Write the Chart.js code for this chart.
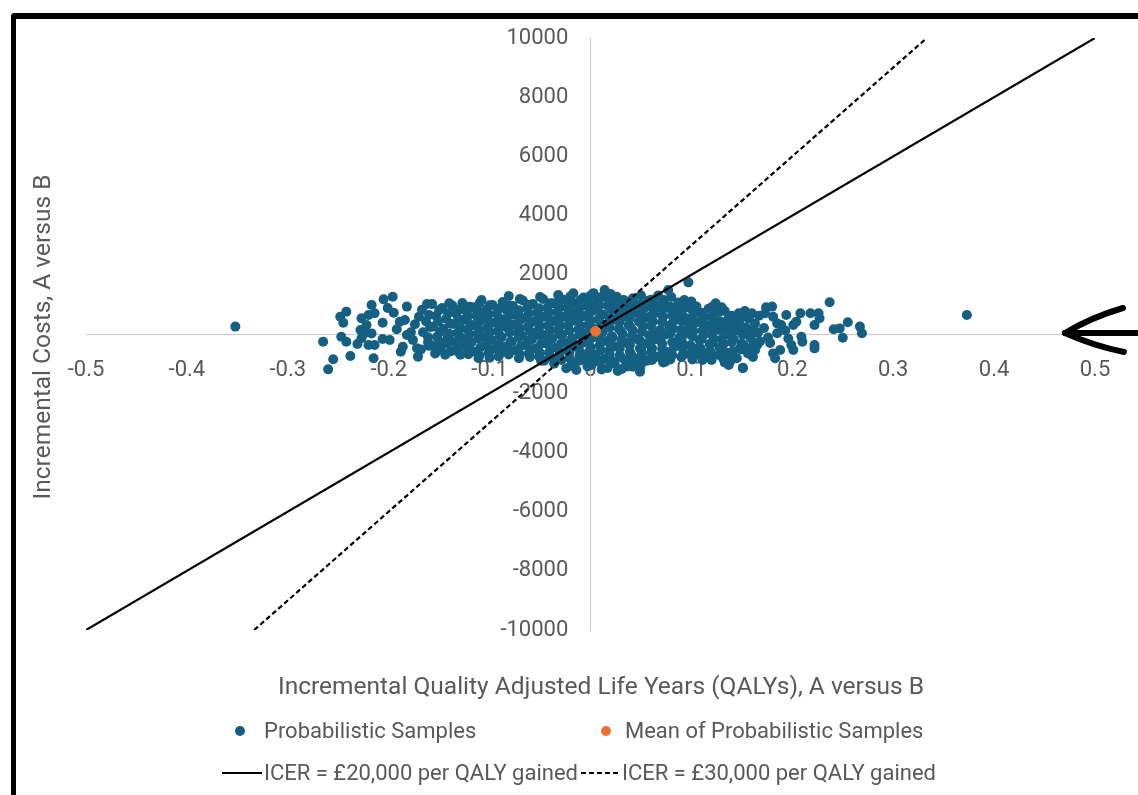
<!DOCTYPE html>
<html>
<head>
<meta charset="utf-8">
<script src="https://cdn.jsdelivr.net/npm/chart.js@4"></script>
<style>
  html, body { margin: 0; padding: 0; background: #fff; width: 1138px; height: 795px; overflow: hidden; }
  #wrap { position: relative; width: 1138px; height: 795px; }
  #frame { position: absolute; left: 11px; top: 13px; width: 1200px; height: 900px;
           border-top: 6px solid #000; border-left: 5px solid #000; border-top-left-radius: 4px; }
  canvas { position: absolute; left: 0; top: 0; }
  .lt { position: absolute; font: 22px Roboto, sans-serif; color: #595959; line-height: 26px; white-space: nowrap; }
  .dot { position: absolute; width: 10px; height: 10px; border-radius: 50%; }
  .ln { position: absolute; width: 40px; height: 2px; }
  #arrow { position: absolute; left: 1040px; top: 290px; }
</style>
</head>
<body>
<div id="wrap">
  <canvas id="ce_plane" width="1138" height="795"></canvas>
  <div id="frame"></div>

  <div class="dot" style="left:235px;top:726px;background:#156082"></div>
  <div class="lt" id="legSamples" style="left:264px;top:718px"></div>
  <div class="dot" style="left:601px;top:726px;background:#E97132"></div>
  <div class="lt" id="legMean" style="left:625px;top:718px"></div>
  <div class="ln" style="left:222px;top:772px;background:#000"></div>
  <div class="lt" id="legIcer20" style="left:264px;top:760px"></div>
  <div class="ln" style="left:581px;top:772px;background:repeating-linear-gradient(90deg,#000 0 5px,transparent 5px 8px)"></div>
  <div class="lt" id="legIcer30" style="left:622px;top:760px"></div>

  <svg id="arrow" width="98" height="80">
    <g stroke="#000" stroke-width="6" fill="none" stroke-linecap="round">
      <path d="M25 43 L98 43"/>
      <path d="M25 43 Q52 27 83 18"/>
      <path d="M25 43 Q54 56 84 62"/>
    </g>
  </svg>
</div>

<script>
// series names + axis titles
const seriesNames = ['Probabilistic Samples', 'Mean of Probabilistic Samples',
  'ICER = £20,000 per QALY gained', 'ICER = £30,000 per QALY gained'];
const xTitle = 'Incremental Quality Adjusted Life Years (QALYs), A versus B';
const yTitle = 'Incremental Costs, A versus B';

// axis ranges / tick steps
const qalyRange = [-0.5, 0.5];
const costRange = [-10000, 10000];
const qalyStep = 0.1;
const costStep = 2000;

// probabilistic samples [incremental QALY, incremental cost]
const outlierSamples = [[-0.352, 250], [0.373, 640]];

const leftSamples = [
  [-0.265,-260],[-0.255,-855],[-0.260,-1195],[-0.248,585],[-0.242,755],[-0.245,380],[-0.247,-90],
  [-0.242,-260],[-0.238,-745],[-0.231,-340],[-0.227,530],[-0.220,640],[-0.217,980],[-0.214,700],
  [-0.205,1170],[-0.196,1260],[-0.206,380],[-0.222,305],[-0.228,135],[-0.223,45],[-0.217,20],
  [-0.227,-145],[-0.220,-370],[-0.214,-370],[-0.215,-820],[-0.206,-170],[-0.199,-200],[-0.182,925],
  [-0.189,415],[-0.192,160],[-0.184,475],[-0.182,-35],[-0.186,-430],[-0.176,-200],[-0.170,585],
  [-0.171,-765],[-0.195,720],[-0.178,60],[-0.174,330],[-0.188,-600],[-0.201,880],[-0.172,-480],
  [-0.162,1015]
];

const coreSamples = [
  [-0.167,820],[-0.163,420],[-0.166,60],[-0.161,-280],[-0.168,-520],
  [-0.157,1010],[-0.153,610],[-0.156,250],[-0.152,-90],[-0.158,-380],[-0.154,-660],
  [-0.147,880],[-0.143,520],[-0.146,180],[-0.142,-160],[-0.148,-450],[-0.144,-700],
  [-0.137,960],[-0.133,680],[-0.136,340],[-0.132,30],[-0.138,-250],[-0.134,-560],
  [-0.127,1050],[-0.123,760],[-0.126,470],[-0.122,150],[-0.128,-130],[-0.124,-420],[-0.121,-680],
  [-0.117,900],[-0.113,620],[-0.116,300],[-0.112,10],[-0.118,-290],[-0.114,-600],[-0.111,-820],
  [-0.108,1150],[-0.103,820],[-0.106,520],[-0.102,220],[-0.107,-80],[-0.104,-380],[-0.101,-650],
  [-0.097,980],[-0.093,690],[-0.096,380],[-0.092,90],[-0.098,-200],[-0.094,-500],[-0.091,-760],
  [-0.087,1080],[-0.083,800],[-0.086,500],[-0.082,200],[-0.088,-110],[-0.084,-420],[-0.081,-690],
  [-0.081,1285],[-0.077,950],[-0.073,640],[-0.076,330],[-0.072,40],[-0.078,-260],[-0.074,-560],[-0.071,-820],
  [-0.067,1130],[-0.063,860],[-0.066,540],[-0.062,240],[-0.068,-60],[-0.064,-360],[-0.061,-640],
  [-0.057,1010],[-0.053,720],[-0.056,420],[-0.052,120],[-0.058,-180],[-0.054,-480],[-0.052,-540],[-0.051,-760],
  [-0.047,1180],[-0.043,880],[-0.046,580],[-0.042,280],[-0.048,-20],[-0.044,-320],[-0.041,-620],[-0.046,-900],
  [-0.032,1320],[-0.037,1040],[-0.033,740],[-0.036,440],[-0.032,140],[-0.038,-160],[-0.034,-460],[-0.031,-740],[-0.036,-1000],
  [-0.017,1375],[-0.027,1160],[-0.023,880],[-0.026,580],[-0.022,280],[-0.028,-20],[-0.024,-320],[-0.021,-620],[-0.024,-1160],[-0.014,-1215],
  [-0.017,1050],[-0.013,760],[-0.016,460],[-0.012,160],[-0.018,-140],[-0.014,-440],[-0.011,-740],[-0.016,-960],
  [-0.007,1230],[-0.003,930],[-0.006,620],[-0.002,320],[-0.008,20],[-0.004,-280],[-0.001,-580],[-0.006,-860],[-0.003,-1100],
  [0.003,1380],[0.007,1100],[0.004,800],[0.008,500],[0.002,200],[0.006,-100],[0.009,-400],[0.004,-700],[0.006,-820],[0.001,-1050],
  [0.013,1260],[0.014,1487],[0.017,960],[0.013,660],[0.018,360],[0.012,60],[0.016,-240],[0.019,-540],[0.014,-840],[0.017,-1150],
  [0.026,1260],[0.023,1080],[0.027,780],[0.024,480],[0.028,180],[0.022,-120],[0.026,-420],[0.029,-720],[0.024,-1000],[0.027,-1250],
  [0.033,1150],[0.037,900],[0.034,600],[0.038,300],[0.032,0],[0.036,-300],[0.039,-600],[0.034,-880],[0.037,-1100],
  [0.042,1205],[0.047,1000],[0.044,720],[0.048,420],[0.042,120],[0.046,-180],[0.049,-480],[0.044,-820],[0.042,-1105],[0.049,-1275],[0.049,-1215],
  [0.057,1120],[0.053,860],[0.056,560],[0.052,260],[0.058,-40],[0.054,-340],[0.051,-640],[0.056,-900],
  [0.067,1300],[0.063,1020],[0.066,720],[0.062,420],[0.068,120],[0.064,-180],[0.061,-480],[0.066,-760],
  [0.077,1487],[0.073,1150],[0.076,880],[0.072,580],[0.078,280],[0.074,-20],[0.071,-320],[0.076,-620],[0.072,-960],[0.074,-935],
  [0.087,1060],[0.083,780],[0.086,480],[0.082,180],[0.088,-120],[0.084,-420],[0.081,-720],
  [0.097,1745],[0.093,1150],[0.096,900],[0.092,600],[0.098,300],[0.094,0],[0.091,-300],[0.093,-690],[0.092,-655],
  [0.105,925],[0.103,700],[0.106,400],[0.102,100],[0.108,-200],[0.104,-500],[0.107,-690],[0.105,-540],
  [0.117,850],[0.113,560],[0.116,260],[0.112,-40],[0.118,-340],[0.114,-640],[0.111,-880],
  [0.124,1040],[0.127,740],[0.123,440],[0.126,140],[0.122,-160],[0.128,-460],[0.127,-710],
  [0.133,780],[0.137,560],[0.134,260],[0.138,-40],[0.132,-340],[0.136,-640],[0.133,-960],[0.137,-1050],
  [0.147,700],[0.143,420],[0.146,120],[0.142,-180],[0.148,-480],[0.145,-820],
  [0.153,780],[0.157,520],[0.154,220],[0.158,-80],[0.152,-380],[0.151,-1140],[0.151,-1160],[0.156,-660],
  [0.167,620],[0.163,350],[0.166,40],[0.165,-370],[0.163,-540],[0.168,-250]
];

// second layer of the dense middle of the cloud
const coreSamplesB = [
  [-0.160,640],[-0.159,240],[-0.161,-110],[-0.160,-400],
  [-0.150,800],[-0.151,430],[-0.149,70],[-0.150,-260],[-0.151,-540],
  [-0.140,1040],[-0.141,700],[-0.139,350],[-0.140,10],[-0.141,-310],[-0.139,-590],
  [-0.130,830],[-0.131,510],[-0.129,190],[-0.130,-100],[-0.131,-400],[-0.129,-700],
  [-0.120,920],[-0.121,610],[-0.119,300],[-0.120,-10],[-0.121,-280],[-0.119,-560],
  [-0.110,1040],[-0.111,760],[-0.109,450],[-0.110,150],[-0.111,-150],[-0.109,-450],[-0.110,-720],
  [-0.100,970],[-0.101,670],[-0.099,370],[-0.100,70],[-0.101,-230],[-0.099,-530],[-0.100,-800],
  [-0.090,860],[-0.091,540],[-0.089,230],[-0.090,-60],[-0.091,-360],[-0.089,-640],
  [-0.080,960],[-0.079,650],[-0.081,350],[-0.080,50],[-0.079,-250],[-0.081,-540],
  [-0.070,1180],[-0.071,800],[-0.069,490],[-0.070,190],[-0.071,-110],[-0.069,-410],[-0.070,-700],
  [-0.060,990],[-0.061,700],[-0.059,390],[-0.060,90],[-0.061,-210],[-0.059,-510],[-0.060,-780],
  [-0.050,1250],[-0.051,870],[-0.049,570],[-0.050,270],[-0.051,-30],[-0.049,-330],[-0.050,-640],[-0.049,-900],
  [-0.040,1040],[-0.041,730],[-0.039,430],[-0.040,130],[-0.041,-170],[-0.039,-470],[-0.040,-780],
  [-0.030,1200],[-0.031,890],[-0.029,590],[-0.030,290],[-0.031,-10],[-0.029,-310],[-0.030,-610],[-0.029,-880],
  [-0.020,1270],[-0.021,1010],[-0.019,720],[-0.020,420],[-0.021,120],[-0.019,-180],[-0.020,-480],[-0.021,-800],[-0.019,-1060],
  [-0.010,1150],[-0.011,880],[-0.009,580],[-0.010,280],[-0.011,-20],[-0.009,-320],[-0.010,-620],[-0.011,-900],
  [0.000,1300],[-0.001,1020],[0.001,760],[0.000,460],[-0.001,160],[0.001,-140],[0.000,-440],[-0.001,-740],[0.001,-980],
  [0.010,1240],[0.009,960],[0.011,650],[0.010,350],[0.009,50],[0.011,-250],[0.010,-550],[0.009,-950],[0.011,-1200],
  [0.020,1350],[0.019,1110],[0.021,820],[0.020,520],[0.019,220],[0.021,-80],[0.020,-380],[0.019,-680],[0.021,-900],
  [0.030,1000],[0.031,710],[0.029,410],[0.030,110],[0.031,-190],[0.029,-490],[0.030,-780],[0.031,-1180],
  [0.040,1090],[0.041,820],[0.039,520],[0.040,220],[0.041,-80],[0.039,-380],[0.040,-680],[0.041,-960],
  [0.050,1310],[0.051,980],[0.049,680],[0.050,380],[0.051,80],[0.049,-220],[0.050,-520],[0.051,-780],[0.050,-1040],
  [0.060,1160],[0.061,880],[0.059,580],[0.060,280],[0.061,-20],[0.059,-320],[0.060,-620],[0.061,-880],
  [0.070,1000],[0.069,700],[0.071,400],[0.070,100],[0.069,-200],[0.071,-500],[0.070,-800],
  [0.080,1250],[0.079,920],[0.081,620],[0.080,320],[0.079,20],[0.081,-280],[0.080,-580],[0.079,-860],
  [0.090,980],[0.089,740],[0.091,440],[0.090,140],[0.089,-160],[0.091,-460],[0.090,-780],
  [0.100,1100],[0.101,800],[0.099,520],[0.100,220],[0.101,-80],[0.099,-380],[0.100,-620],[0.101,-860],
  [0.110,720],[0.109,420],[0.111,120],[0.110,-180],[0.109,-480],[0.111,-760],
  [0.120,900],[0.121,600],[0.119,300],[0.120,0],[0.121,-300],[0.119,-600],[0.120,-880],
  [0.130,900],[0.129,420],[0.131,120],[0.130,-180],[0.129,-480],[0.131,-800],
  [0.140,620],[0.141,320],[0.139,20],[0.140,-280],[0.141,-580],[0.139,-900],
  [0.150,560],[0.149,260],[0.151,-30],[0.150,-330],[0.149,-520],
  [0.160,700],[0.161,120],[0.159,-150],[0.160,-450],[0.161,-780]
];

const rightSamples = [
  [0.174,900],[0.180,925],[0.173,700],[0.181,585],[0.194,640],[0.189,305],[0.201,305],[0.208,700],
  [0.218,700],[0.226,700],[0.237,1070],[0.227,530],[0.222,305],[0.241,160],[0.247,190],[0.255,395],
  [0.250,-125],[0.267,250],[0.269,25],[0.222,-370],[0.222,-485],[0.209,-90],[0.210,-260],[0.199,-370],
  [0.201,-540],[0.188,-540],[0.181,-655],[0.165,-370],[0.163,-540],[0.183,-820],[0.185,360],[0.185,25],
  [0.204,415],[0.193,120],[0.176,-120],[0.172,200],[0.178,-300],[0.196,-150]
];

const meanSample = [[0.005, 90]];

// ICER threshold lines, end points
const icer20Qaly = [-0.5, 0.5];
const icer20Cost = [-10000, 10000];
const icer30Qaly = [-0.3333, 0.3333];
const icer30Cost = [-10000, 10000];

const blue = '#156082';
const orange = '#E97132';
const grey = '#595959';
const tickFont = { family: 'Roboto', size: 22 };

const toPoints = arr => arr.map(p => ({x: p[0], y: p[1]}));
const samples = toPoints([...outlierSamples, ...leftSamples, ...coreSamples, ...coreSamplesB, ...rightSamples]);

document.getElementById('legSamples').textContent = seriesNames[0];
document.getElementById('legMean').textContent = seriesNames[1];
document.getElementById('legIcer20').textContent = seriesNames[2];
document.getElementById('legIcer30').textContent = seriesNames[3];

// axis titles drawn on the canvas
const axisTitles = {
  id: 'axisTitles',
  afterDraw(chart) {
    const ctx = chart.ctx;
    ctx.save();
    ctx.fillStyle = grey;
    ctx.font = '24.5px Roboto';
    ctx.textAlign = 'center';
    ctx.textBaseline = 'middle';
    ctx.fillText(xTitle, 601, 688);
    ctx.translate(44, 337);
    ctx.rotate(-Math.PI / 2);
    ctx.fillText(yTitle, 0, 0);
    ctx.restore();
  }
};

const zeroWidth = scale => { scale.width = 0; };
const zeroHeight = scale => { scale.height = 0; };

new Chart(document.getElementById('ce_plane'), {
  type: 'scatter',
  data: {
    datasets: [
      {
        label: seriesNames[1],
        data: toPoints(meanSample),
        backgroundColor: orange,
        borderColor: orange,
        pointRadius: 5,
        order: 0
      },
      {
        label: seriesNames[2],
        data: icer20Qaly.map((q, i) => ({x: q, y: icer20Cost[i]})),
        showLine: true,
        borderColor: '#000',
        borderWidth: 2.2,
        pointRadius: 0,
        order: 1
      },
      {
        label: seriesNames[3],
        data: icer30Qaly.map((q, i) => ({x: q, y: icer30Cost[i]})),
        showLine: true,
        borderColor: '#000',
        borderWidth: 2.2,
        borderDash: [5, 3],
        pointRadius: 0,
        order: 2
      },
      {
        label: seriesNames[0],
        data: samples,
        backgroundColor: blue,
        borderColor: blue,
        borderWidth: 0,
        pointRadius: 5,
        order: 3
      }
    ]
  },
  options: {
    responsive: false,
    animation: false,
    devicePixelRatio: 1,
    layout: { padding: { left: 86, right: 43, top: 38, bottom: 165 } },
    plugins: { legend: { display: false }, tooltip: { enabled: false } },
    scales: {
      x: {
        type: 'linear',
        min: qalyRange[0], max: qalyRange[1],
        position: { y: 0 },
        afterFit: zeroHeight,
        grid: { display: false },
        border: { color: '#c8c8c8', width: 1 },
        ticks: { stepSize: qalyStep, padding: 15, color: grey, font: tickFont, autoSkip: false, maxRotation: 0 }
      },
      // axis line through QALY = 0
      y: {
        type: 'linear',
        min: costRange[0], max: costRange[1],
        position: { x: 0 },
        afterFit: zeroWidth,
        grid: { display: false },
        border: { color: '#c8c8c8', width: 1 },
        ticks: { display: false, stepSize: costStep }
      },
      // cost tick labels, set a little left of the axis line
      yLabels: {
        type: 'linear',
        axis: 'y',
        min: costRange[0], max: costRange[1],
        position: { x: -0.022 },
        afterFit: zeroWidth,
        grid: { display: false },
        border: { display: false },
        ticks: { stepSize: costStep, color: grey, font: tickFont, autoSkip: false,
                 callback: v => String(v) }
      }
    }
  },
  plugins: [axisTitles]
});
</script>
</body>
</html>
